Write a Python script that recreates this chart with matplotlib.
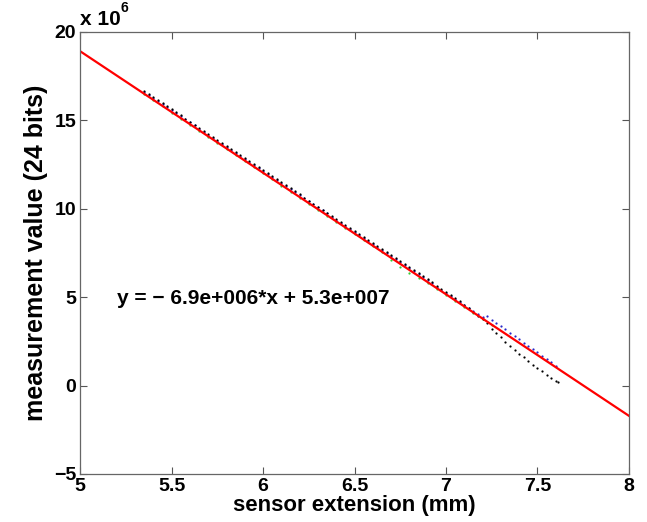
import matplotlib
matplotlib.use("Agg")
import matplotlib.pyplot as plt
import numpy as np

plt.rcParams["font.family"] = ["Liberation Sans", "DejaVu Sans"]
plt.rcParams["font.weight"] = "bold"

# sensor extension (mm) for the measured points
x_meas = [5.350, 5.375, 5.400, 5.425, 5.450, 5.475, 5.500, 5.525, 5.550, 5.575,
          5.600, 5.625, 5.650, 5.675, 5.700, 5.725, 5.750, 5.775, 5.800, 5.825,
          5.850, 5.875, 5.900, 5.925, 5.950, 5.975, 6.000, 6.025, 6.050, 6.075,
          6.100, 6.125, 6.150, 6.175, 6.200, 6.225, 6.250, 6.275, 6.300, 6.325,
          6.350, 6.375, 6.400, 6.425, 6.450, 6.475, 6.500, 6.525, 6.550, 6.575,
          6.600, 6.625, 6.650, 6.675, 6.700, 6.725, 6.750, 6.775, 6.800, 6.825,
          6.850, 6.875, 6.900, 6.925, 6.950, 6.975, 7.000, 7.025, 7.050, 7.075,
          7.100, 7.125, 7.150, 7.175, 7.200, 7.225, 7.250, 7.275, 7.300, 7.325,
          7.350, 7.375, 7.400, 7.425, 7.450, 7.475, 7.500, 7.525, 7.550, 7.575,
          7.600]

# measurement values in units of 1e6
y_black = [16.65, 16.47, 16.30, 16.13, 15.96, 15.79, 15.62, 15.44, 15.27, 15.10,
           14.93, 14.76, 14.58, 14.41, 14.24, 14.07, 13.90, 13.73, 13.55, 13.38,
           13.21, 13.04, 12.87, 12.70, 12.52, 12.35, 12.18, 12.01, 11.84, 11.67,
           11.49, 11.32, 11.15, 10.98, 10.81, 10.63, 10.46, 10.29, 10.12, 9.95,
           9.78, 9.60, 9.43, 9.26, 9.09, 8.92, 8.75, 8.57, 8.40, 8.23,
           8.06, 7.89, 7.71, 7.54, 7.37, 7.20, 7.03, 6.86, 6.68, 6.51,
           6.34, 6.17, 6.00, 5.83, 5.65, 5.48, 5.31, 5.14, 4.97, 4.80,
           4.55, 4.36, 4.17, 3.96, 3.76, 3.51, 3.22, 2.95, 2.72, 2.49,
           2.26, 2.03, 1.81, 1.60, 1.39, 1.19, 1.00, 0.80, 0.62, 0.44,
           0.28]
y_blue = [16.60, 16.42, 16.25, 16.08, 15.91, 15.74, 15.57, 15.39, 15.22, 15.05,
          14.88, 14.71, 14.53, 14.36, 14.19, 14.02, 13.85, 13.68, 13.50, 13.33,
          13.16, 12.99, 12.82, 12.65, 12.47, 12.30, 12.13, 11.96, 11.79, 11.62,
          11.44, 11.27, 11.10, 10.93, 10.76, 10.58, 10.41, 10.24, 10.07, 9.90,
          9.73, 9.55, 9.38, 9.21, 9.04, 8.87, 8.70, 8.52, 8.35, 8.18,
          8.01, 7.84, 7.66, 7.49, 7.32, 7.15, 6.98, 6.81, 6.63, 6.46,
          6.29, 6.12, 5.95, 5.78, 5.60, 5.43, 5.26, 5.09, 4.92, 4.75,
          4.57, 4.40, 4.22, 4.05, 3.88, 3.91, 3.73, 3.55, 3.37, 3.18,
          2.99, 2.81, 2.62, 2.43, 2.24, 2.05, 1.87, 1.68, 1.50, 1.31,
          1.12]
x_black_end = [7.61]
y_black_end = [0.20]

x_green = [5.35, 5.40, 5.45, 5.50, 5.55, 5.60, 5.65, 5.70, 5.75, 5.80,
           5.85, 5.90, 5.95, 6.00, 6.05, 6.10, 6.15, 6.20, 6.25, 6.30,
           6.35, 6.40, 6.45, 6.50, 6.55, 6.60, 6.65, 6.70, 6.75, 6.80,
           6.85, 6.90, 6.95, 7.00, 7.05, 7.10, 7.15, 7.20, 7.25]
y_green = [16.47, 16.12, 15.78, 15.41, 15.09, 14.75, 14.40, 14.06, 13.72, 13.37,
           13.03, 12.69, 12.34, 12.00, 11.66, 11.31, 10.97, 10.63, 10.28, 9.94,
           9.60, 9.25, 8.91, 8.57, 8.22, 7.88, 7.53, 7.11, 6.72, 6.36,
           6.09, 5.82, 5.47, 5.13, 4.79, 4.44, 4.12, 3.77, 3.42]

# linear fit shown in the figure
fit_slope = -6.87e6
fit_intercept = 5.325e7
fit_label = "y = \u2212 6.9e+006*x + 5.3e+007"

x_ticks = [5, 5.5, 6, 6.5, 7, 7.5, 8]
y_ticks = [-5, 0, 5, 10, 15, 20]

scale = 1e6

fig = plt.figure(figsize=(6.47, 5.22), dpi=100)
ax = fig.add_axes([0.124, 0.092, 0.848, 0.847])

ax.plot(x_green, np.array(y_green) * scale, linestyle="none", marker="o",
        ms=1.6, mew=0, color="#33cc33")
ax.plot(x_meas, np.array(y_blue) * scale, linestyle="none", marker="o",
        ms=1.6, mew=0, color="#2828c8")
ax.plot(x_meas + x_black_end, np.array(y_black + y_black_end) * scale,
        linestyle="none", marker="o", ms=1.6, mew=0, color="black")

fit_x = np.array([5.0, 8.0])
ax.plot(fit_x, fit_slope * fit_x + fit_intercept, color="red", lw=1.6)

ax.text(5.2, 4.9e6, fit_label, fontsize=15, fontweight="bold", va="center")

ax.set_xlim(5, 8)
ax.set_ylim(-5e6, 20e6)
ax.set_xticks(x_ticks)
ax.set_xticklabels([f"{t:g}" for t in x_ticks])
ax.set_yticks([t * scale for t in y_ticks])
ax.set_yticklabels([f"{t:g}".replace("-", "\u2212") for t in y_ticks])
ax.tick_params(direction="in", length=5, width=0.8, top=True, right=True,
               labelsize=14, color="#555555", pad=3)
for s in ax.spines.values():
    s.set_color("#666666")
    s.set_linewidth(0.9)

ax.set_xlabel("sensor extension (mm)", fontsize=16, fontweight="bold", labelpad=0)
ax.set_ylabel("measurement value (24 bits)", fontsize=18, fontweight="bold", labelpad=4)
fig.text(0.124, 0.944, "x 10", fontsize=15, fontweight="bold", va="bottom")
fig.text(0.187, 0.972, "6", fontsize=10, fontweight="bold", va="bottom")

fig.savefig("out.png", dpi=100)
